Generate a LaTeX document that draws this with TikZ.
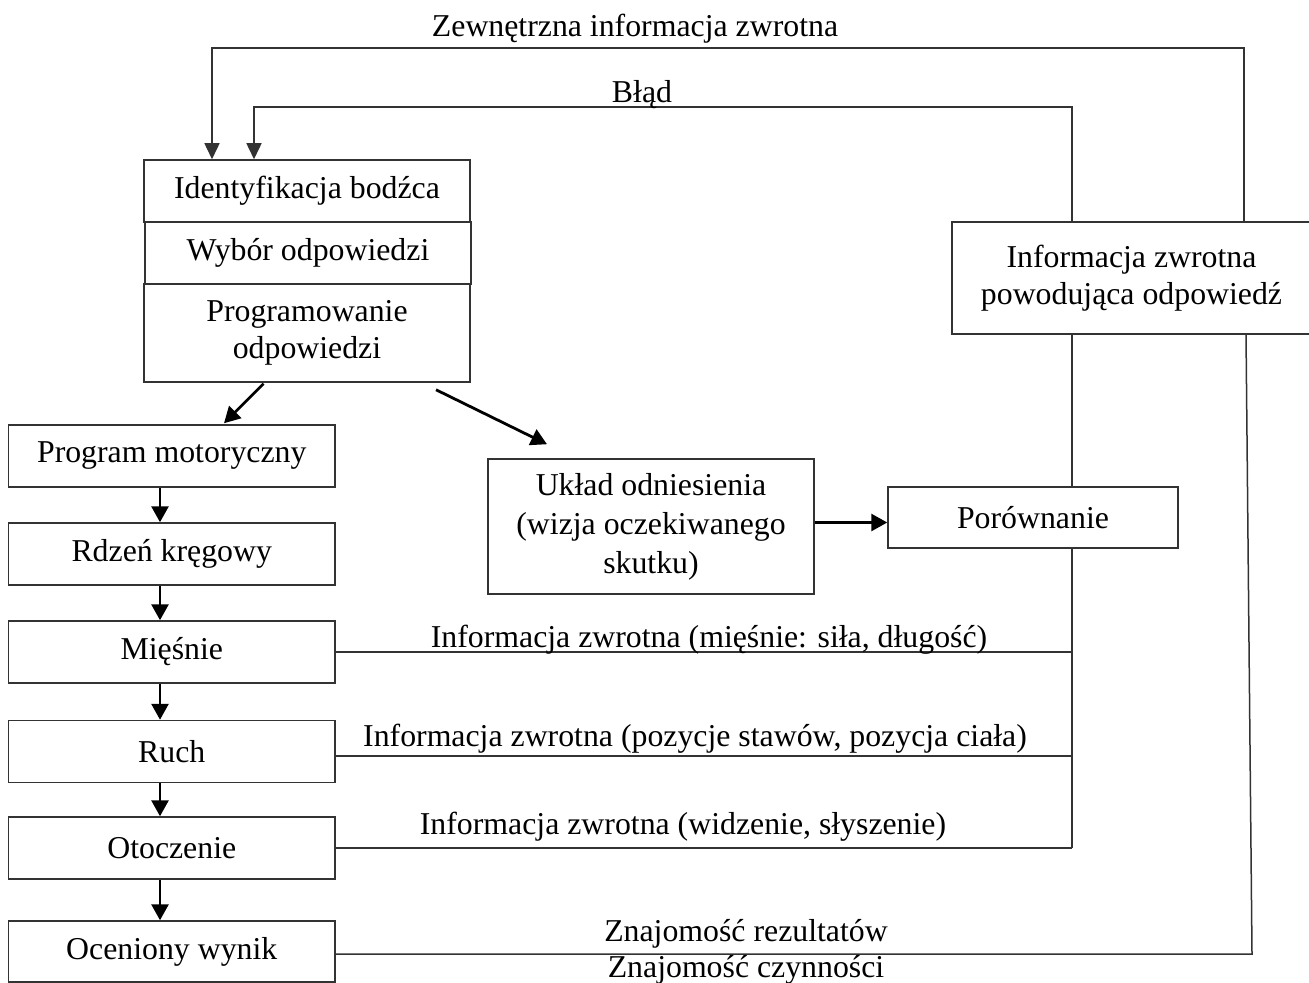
\documentclass[tikz,border=0pt]{standalone}
\usepackage{fontspec}
\setmainfont{Liberation Serif}
\usetikzlibrary{arrows.meta,calc}
\newcommand\fbig{\fontsize{15.9pt}{18.5pt}\selectfont}
\begin{document}
\begin{tikzpicture}[x=0.5pt,y=-0.5pt,
  box/.style={draw=black!80,line width=0.75pt,inner sep=0pt,align=center,font=\fbig},
  lbox/.style={box,minimum width=163.25pt,minimum height=31pt},
  arr/.style={-{Triangle[length=8pt,width=8.5pt]},line width=1.4pt,draw=black},
  thinarr/.style={-{Triangle[length=8pt,width=7.5pt]},line width=0.75pt,draw=black!80},
  fb/.style={line width=0.75pt,draw=black!80},
  lab/.style={font=\fbig,inner sep=0pt,anchor=base}]
\useasboundingbox (0,0) rectangle (1309,983);

% decision stages
\node[box,minimum width=163pt,minimum height=31pt] (id) at (307,191) {Identyfikacja bodźca};
\node[box,minimum width=163pt,minimum height=31pt] (wyb) at (308,253) {Wybór odpowiedzi};
\node[box,minimum width=163pt,minimum height=49pt] (prog) at (307,333) {Programowanie\\odpowiedzi};

% execution chain
\node[lbox] (pm) at (171.75,456) {Program motoryczny};
\node[lbox] (rdz) at (171.75,554) {Rdzeń kręgowy};
\node[lbox] (mie) at (171.75,652) {Mięśnie};
\node[lbox] (ruch) at (171.75,751.5) {Ruch};
\node[lbox] (oto) at (171.75,848) {Otoczenie};
\node[lbox,minimum height=30.5pt] (oce) at (171.75,951.5) {Oceniony wynik};

% reference and comparison
\node[box,minimum width=163pt,minimum height=67.5pt,font=\fontsize{15.9pt}{19.5pt}\selectfont] (ukl) at (651,526.5) {Układ odniesienia\\(wizja oczekiwanego\\skutku)};
\node[box,minimum width=145pt,minimum height=30.5pt] (por) at (1033,517.5) {Porównanie};
\node[box,minimum width=179.5pt,minimum height=56pt] (inf) at (1131.5,278) {Informacja zwrotna\\powodująca odpowiedź};

% helper columns and rows
\coordinate (colx) at (160,0);
\coordinate (vx) at (1072,0);
\coordinate (ext) at (1244,48);
\coordinate (err) at (1072,107);
\coordinate (extl) at (212,0);
\coordinate (errl) at (254,0);
\coordinate (rtop) at (1246,0);
\coordinate (rbot) at (1252,0);
\coordinate (pa) at (263.5,0);
\coordinate (pb) at (224,0);

% arrows down the chain
\draw[arr] (pm.south -| colx) -- (rdz.north -| colx);
\draw[arr] (rdz.south -| colx) -- (mie.north -| colx);
\draw[arr] (mie.south -| colx) -- (ruch.north -| colx);
\draw[arr] (ruch.south -| colx) -- (oto.north -| colx);
\draw[arr] (oto.south -| colx) -- (oce.north -| colx);

% from programming to motor program and reference
\draw[arr] ($(prog.south -| pa)+(0,1)$) -- ($(pm.north -| pb)+(0,-1)$);
\draw[arr] ($(prog.south)+(129,7)$) -- ($(ukl.north)+(-104,-14)$);
\draw[arr] ($(ukl.east)+(0,-4)$) -- ($(ukl.east -| por.west)+(0,-4)$);

% feedback loops to the top
\draw[thinarr] (inf.north -| ext) -- (ext) -| (id.north -| extl);
\draw[thinarr] (inf.north -| err) -- (err) -| (id.north -| errl);

% intrinsic feedback collector
\draw[fb] (inf.south -| vx) -- (por.north -| vx);
\draw[fb] (por.south -| vx) -- (oto.east -| vx);
\draw[fb] (mie.east) -- (mie.east -| vx);
\draw[fb] ($(ruch.east)+(0,4.5)$) -- ($(ruch.east -| vx)+(0,4.5)$);
\draw[fb] (oto.east) -- (oto.east -| vx);

% knowledge of results
\draw[fb] ($(oce.east)+(0,2.5)$) -- ($(oce.east -| rbot)+(0,2.5)$) -- (inf.south -| rtop);

% labels
\node[lab] (lext) at (635,37) {Zewnętrzna informacja zwrotna};
\node[lab] (lerr) at (642,103) {Błąd};
\node[lab] (lmie) at (709,647) {Informacja zwrotna (mięśnie: siła, długość)};
\node[lab] (lruch) at (695,746) {Informacja zwrotna (pozycje stawów, pozycja ciała)};
\node[lab] (loto) at (683,834) {Informacja zwrotna (widzenie, słyszenie)};
\node[lab] (lrez) at (746,941) {Znajomość rezultatów};
\node[lab] (lczy) at (746,977) {Znajomość czynności};
\end{tikzpicture}
\end{document}
